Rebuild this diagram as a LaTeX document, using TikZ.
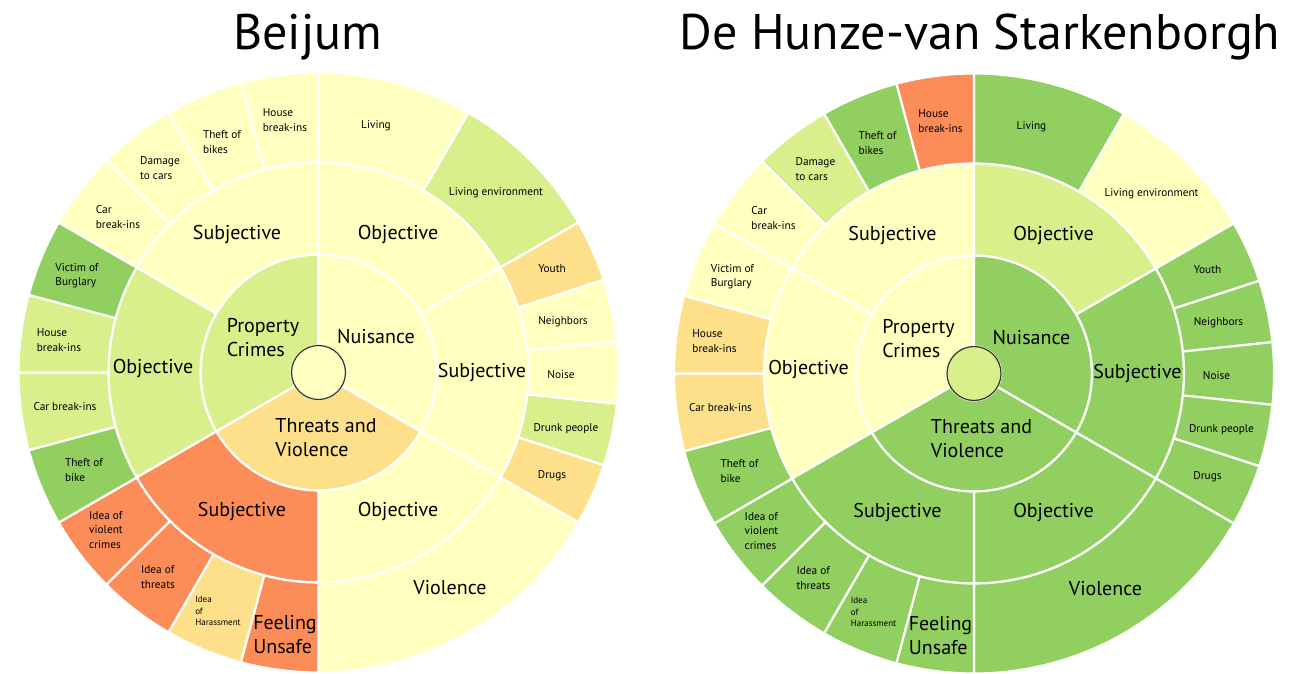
\documentclass[tikz,border=0pt]{standalone}
\usepackage{fontspec}
\setmainfont{PT Sans}
\usepackage{tikz}

\definecolor{coral}{HTML}{FC8D59}
\definecolor{sand}{HTML}{FEE08B}
\definecolor{cream}{HTML}{FFFFBF}
\definecolor{lime}{HTML}{D9EF8B}
\definecolor{leaf}{HTML}{91CF60}

\tikzset{
    segment/.style={draw=white, line width=2.2pt, line join=round},
    hub/.style={circle, draw=black!80, line width=1.2pt, minimum size=54pt, inner sep=0pt},
    ringlabel/.style={font=\fontsize{20}{24}\selectfont, align=left, inner sep=0pt},
    leaflabel/.style={font=\fontsize{11.3}{14.3}\selectfont, align=left, inner sep=0pt},
    tinylabel/.style={font=\fontsize{9}{11.3}\selectfont, align=left, inner sep=0pt},
    chartname/.style={font=\fontsize{50}{60}\selectfont, anchor=base, inner sep=0pt},
}

\def\rhub{27}
\def\rone{118}
\def\rtwo{210}
\def\rthree{300}

% annular segment: start angle, end angle, inner radius, outer radius, colour
\newcommand{\seg}[5]{%
    \filldraw[segment, fill=#5] (#1:#3) -- (#1:#4) arc[start angle=#1, end angle=#2, radius=#4]
        -- (#2:#3) arc[start angle=#2, end angle=#1, radius=#3] -- cycle;}

% the texts of one chart, names prefixed with #1
\newcommand{\sunlabels}[1]{%
    \node[ringlabel] (#1-prop) at (-55.5,34.5) {Property\\Crimes};
    \node[ringlabel] (#1-nuis) at (57.5,35.5) {Nuisance};
    \node[ringlabel] (#1-thr) at (7.5,-65.5) {Threats and\\Violence};
    \node[ringlabel] (#1-propsub) at (-81.5,137.5) {Subjective};
    \node[ringlabel] (#1-propobj) at (-165.5,4.5) {Objective};
    \node[ringlabel] (#1-nuisobj) at (79.5,137.5) {Objective};
    \node[ringlabel] (#1-nuissub) at (163.5,0.5) {Subjective};
    \node[ringlabel] (#1-throbj) at (79.5,-138.5) {Objective};
    \node[ringlabel] (#1-thrsub) at (-76.5,-138.5) {Subjective};
    \node[ringlabel] (#1-violence) at (131.5,-215.5) {Violence};
    \node[ringlabel] (#1-unsafe) at (-33.5,-262.5) {Feeling\\Unsafe};
    \node[leaflabel] (#1-living) at (57.5,246.5) {Living};
    \node[leaflabel] (#1-env) at (177.5,179.5) {Living environment};
    \node[leaflabel] (#1-youth) at (233.5,103.5) {Youth};
    \node[leaflabel] (#1-neigh) at (244.5,50.5) {Neighbors};
    \node[leaflabel] (#1-noise) at (242.5,-2.5) {Noise};
    \node[leaflabel] (#1-drunk) at (247.5,-56.5) {Drunk people};
    \node[leaflabel] (#1-drugs) at (233.5,-103.5) {Drugs};
    \node[tinylabel] (#1-harass) at (-100.5,-238.5) {Idea\\of\\Harassment};
    \node[leaflabel] (#1-threats) at (-160.5,-204.5) {Idea of\\threats};
    \node[leaflabel] (#1-violent) at (-212.5,-157.5) {Idea of\\violent\\crimes};
    \node[leaflabel] (#1-bike) at (-234.5,-97.5) {Theft of\\bike};
    \node[leaflabel] (#1-carobj) at (-253.5,-34.5) {Car break-ins};
    \node[leaflabel] (#1-houseobj) at (-259.5,32.5) {House\\break-ins};
    \node[leaflabel] (#1-victim) at (-241.5,96.5) {Victim of\\Burglary};
    \node[leaflabel] (#1-carsub) at (-200.5,155.5) {Car\\break-ins};
    \node[leaflabel] (#1-damage) at (-158.5,204.5) {Damage\\to cars};
    \node[leaflabel] (#1-bikes) at (-96.5,230.5) {Theft of\\bikes};
    \node[leaflabel] (#1-housesub) at (-33.5,252.5) {House\\break-ins};
}

\begin{document}
\begin{tikzpicture}[x=1pt, y=1pt]
    \useasboundingbox (0,0) rectangle (1293,673);

    \node[chartname] (title-b) at (307.5,623) {Beijum};
    \node[chartname] (title-h) at (980,623) {De Hunze-van Starkenborgh};

    % Beijum
    \begin{scope}[shift={(318.5,300.5)}]
        \foreach \a/\b/\c in {90/210/lime, -30/90/cream, -150/-30/sand}
            {\seg{\a}{\b}{\rhub}{\rone}{\c}}
        \foreach \a/\b/\c in {90/150/cream, 150/210/lime, 30/90/cream, -30/30/cream, -90/-30/cream, -150/-90/coral}
            {\seg{\a}{\b}{\rone}{\rtwo}{\c}}
        \foreach \a/\b/\c in {60/90/cream, 30/60/lime, 18/30/sand, 6/18/cream, -6/6/cream, -18/-6/lime, -30/-18/sand,
                -90/-30/cream, -105/-90/coral, -120/-105/sand, -135/-120/coral, -150/-135/coral,
                195/210/leaf, 180/195/lime, 165/180/lime, 150/165/leaf,
                90/105/cream, 105/120/cream, 120/135/cream, 135/150/cream}
            {\seg{\a}{\b}{\rtwo}{\rthree}{\c}}
        \node[hub, fill=cream] (b-hub) at (0,0) {};
        \sunlabels{b}
    \end{scope}

    % De Hunze-van Starkenborgh
    \begin{scope}[shift={(974,299.5)}]
        \foreach \a/\b/\c in {90/210/cream, -30/90/leaf, -150/-30/leaf}
            {\seg{\a}{\b}{\rhub}{\rone}{\c}}
        \foreach \a/\b/\c in {90/150/cream, 150/210/cream, 30/90/lime, -30/30/leaf, -90/-30/leaf, -150/-90/leaf}
            {\seg{\a}{\b}{\rone}{\rtwo}{\c}}
        \foreach \a/\b/\c in {60/90/leaf, 30/60/cream, 18/30/leaf, 6/18/leaf, -6/6/leaf, -18/-6/leaf, -30/-18/leaf,
                -90/-30/leaf, -105/-90/leaf, -120/-105/leaf, -135/-120/leaf, -150/-135/leaf,
                195/210/leaf, 180/195/sand, 165/180/sand, 150/165/cream,
                90/105/coral, 105/120/leaf, 120/135/lime, 135/150/cream}
            {\seg{\a}{\b}{\rtwo}{\rthree}{\c}}
        \node[hub, fill=lime] (h-hub) at (0,0) {};
        \sunlabels{h}
    \end{scope}
\end{tikzpicture}
\end{document}
